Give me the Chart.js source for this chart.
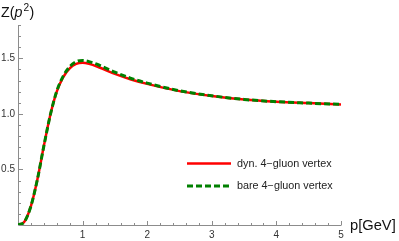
<!DOCTYPE html>
<html>
<head>
    <title>Z(p2) dressing function</title>
    <style type="text/css">
        body {
            margin: 0;
            background: #ffffff;
        }

        #chart-container {
            width: 399px;
            height: 241px;
        }
    </style>
    <script type="text/javascript" src="https://cdn.jsdelivr.net/npm/chart.js@4/dist/chart.umd.min.js"></script>
</head>
<body>

<div id="chart-container">
    <canvas id="graphCanvas" width="399" height="241"></canvas>
</div>

<script>
    // momentum p [GeV]
    var momentum = [0, 0.1, 0.2, 0.3, 0.4, 0.5, 0.6, 0.7, 0.8, 0.9, 1.0, 1.1, 1.25, 1.5, 1.75, 2.0, 2.5, 3.0, 3.5, 4.0, 4.5, 5.0];
    // Z(p^2), dynamical 4-gluon vertex
    var zDyn = [0, 0.03, 0.17, 0.41, 0.71, 0.99, 1.2, 1.33, 1.41, 1.45, 1.46, 1.45, 1.42, 1.36, 1.31, 1.27, 1.205, 1.162, 1.13, 1.11, 1.097, 1.085];
    // Z(p^2), bare 4-gluon vertex
    var zBare = [0, 0.03, 0.17, 0.41, 0.71, 0.99, 1.205, 1.34, 1.425, 1.47, 1.48, 1.47, 1.44, 1.375, 1.32, 1.277, 1.208, 1.163, 1.13, 1.11, 1.097, 1.085];

    var xTicks = [1, 2, 3, 4, 5];
    var yTicks = ['0.5', '1.0', '1.5'];
    var seriesLabels = ['dyn. 4\u2212gluon vertex', 'bare 4\u2212gluon vertex'];

    function toPoints(xs, ys) {
        var pts = [];
        for (var i = 0; i < xs.length; i++) {
            pts.push({x: xs[i], y: ys[i]});
        }
        return pts;
    }

    var axisColor = '#8c8c8c';
    var labelColor = '#333333';

    // stretched text, the reference glyphs are a bit wide
    function wideText(ctx, txt, x, y, sx) {
        ctx.save();
        ctx.translate(x, y);
        ctx.scale(sx, 1);
        ctx.fillText(txt, 0, 0);
        ctx.restore();
    }

    var axesPlugin = {
        id: 'mmaAxes',
        beforeDatasetsDraw: function (chart) {
            var ctx = chart.ctx;
            var xs = chart.scales.x;
            var ys = chart.scales.y;
            var x0 = xs.getPixelForValue(0);
            var y0 = ys.getPixelForValue(0);
            var area = chart.chartArea;

            ctx.save();
            ctx.strokeStyle = axisColor;
            ctx.lineWidth = 1;
            ctx.beginPath();
            ctx.moveTo(x0 + 0.5, area.top);
            ctx.lineTo(x0 + 0.5, y0 + 0.5);
            ctx.lineTo(area.right, y0 + 0.5);
            ctx.stroke();

            // x ticks
            ctx.beginPath();
            for (var i = 1; i <= 25; i++) {
                var v = i * 0.2;
                var px = Math.round(xs.getPixelForValue(v)) + 0.5;
                var len = (i % 5 === 0) ? 4.5 : 2.5;
                ctx.moveTo(px, y0 + 0.5);
                ctx.lineTo(px, y0 + 0.5 - len);
            }
            // y ticks
            for (var j = 1; j <= 18; j++) {
                var w = j * 0.1;
                var py = Math.round(ys.getPixelForValue(w)) + 0.5;
                var l2 = (j % 5 === 0) ? 4.5 : 2.5;
                ctx.moveTo(x0 + 0.5, py);
                ctx.lineTo(x0 + 0.5 + l2, py);
            }
            ctx.stroke();

            ctx.fillStyle = labelColor;
            ctx.font = '10px "Liberation Sans", Arial, sans-serif';
            ctx.textBaseline = 'middle';
            ctx.textAlign = 'center';
            xTicks.forEach(function (t) {
                ctx.fillText(String(t), xs.getPixelForValue(t), y0 + 10);
            });
            ctx.textAlign = 'right';
            yTicks.forEach(function (t) {
                ctx.fillText(t, x0 - 3, ys.getPixelForValue(parseFloat(t)));
            });

            // axis titles
            ctx.fillStyle = '#111111';
            ctx.textAlign = 'left';
            ctx.textBaseline = 'alphabetic';
            ctx.font = '14px "Liberation Sans", Arial, sans-serif';
            wideText(ctx, 'p[GeV]', area.right + 9, y0 + 5, 1.05);

            var tx = 1;
            var ty = 17;
            ctx.font = '14px "Liberation Sans", Arial, sans-serif';
            wideText(ctx, 'Z(', tx, ty, 1.02);
            tx += ctx.measureText('Z(').width * 1.02;
            ctx.font = 'italic 14px "Liberation Sans", Arial, sans-serif';
            wideText(ctx, 'p', tx, ty, 1.02);
            tx += ctx.measureText('p').width * 1.02 + 1;
            ctx.font = '10px "Liberation Sans", Arial, sans-serif';
            wideText(ctx, '2', tx, ty - 6, 1.02);
            tx += ctx.measureText('2').width * 1.02 + 0.5;
            ctx.font = '14px "Liberation Sans", Arial, sans-serif';
            wideText(ctx, ')', tx, ty, 1.02);
            ctx.restore();
        },
        afterDraw: function (chart) {
            var ctx = chart.ctx;
            var lx = 187;
            var rows = [163.5, 186];
            ctx.save();
            ctx.font = '10px "Liberation Sans", Arial, sans-serif';
            ctx.textBaseline = 'middle';
            ctx.textAlign = 'left';
            for (var k = 0; k < 2; k++) {
                var ds = chart.data.datasets[k === 0 ? 1 : 0];
                ctx.strokeStyle = ds.borderColor;
                ctx.lineWidth = ds.borderWidth;
                ctx.setLineDash(ds.borderDash || []);
                ctx.beginPath();
                ctx.moveTo(lx, rows[k]);
                ctx.lineTo(lx + 44, rows[k]);
                ctx.stroke();
                ctx.setLineDash([]);
                ctx.fillStyle = '#222222';
                wideText(ctx, seriesLabels[k], lx + 50, rows[k] + 0.5, 1.08);
            }
            ctx.restore();
        }
    };

    var chartdata = {
        datasets: [
            {
                label: seriesLabels[1],
                data: toPoints(momentum, zBare),
                borderColor: 'rgb(0,128,0)',
                borderWidth: 3,
                borderDash: [6, 3],
                pointRadius: 0,
                cubicInterpolationMode: 'monotone',
                fill: false,
                order: 0
            },
            {
                label: seriesLabels[0],
                data: toPoints(momentum, zDyn),
                borderColor: 'rgb(255,0,0)',
                borderWidth: 2.5,
                pointRadius: 0,
                cubicInterpolationMode: 'monotone',
                fill: false,
                order: 1
            }
        ]
    };

    var graphTarget = document.getElementById('graphCanvas');

    var lineGraph = new Chart(graphTarget, {
        type: 'line',
        data: chartdata,
        plugins: [axesPlugin],
        options: {
            responsive: false,
            animation: false,
            devicePixelRatio: 1,
            layout: {
                padding: {left: 18, right: 58, top: 25, bottom: 16}
            },
            plugins: {
                legend: {display: false},
                tooltip: {enabled: false}
            },
            scales: {
                x: {type: 'linear', min: 0, max: 5, display: false},
                y: {type: 'linear', min: 0, max: 1.8, display: false}
            }
        }
    });
</script>

</body>
</html>
